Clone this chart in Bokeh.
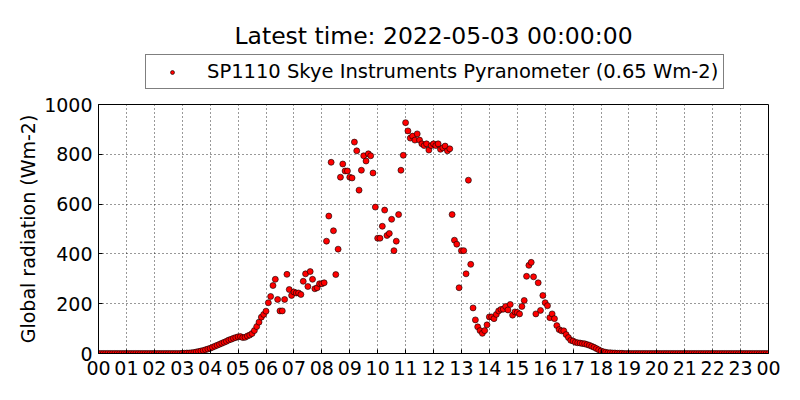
from bokeh.plotting import figure
from bokeh.layouts import column
from bokeh.models import (ColumnDataSource, FixedTicker, Legend, LegendItem, Label)
from bokeh.embed import file_html
from bokeh.resources import INLINE

TITLE = "Latest time: 2022-05-03 00:00:00"
SERIES_NAME = "SP1110 Skye Instruments Pyranometer (0.65 Wm-2)"
Y_LABEL = "Global radiation (Wm-2)"
START_HOUR = 0.0
STEP_MIN = 5  # sampling interval in minutes

# global radiation (Wm-2), one value every 5 minutes from 00:00 to 24:00
night_am = [0] * 36  # 00:00 - 02:55
dawn = [1, 1, 2, 2, 3, 4, 6, 8, 10, 12, 15, 18,          # 03:00 - 03:55
        21, 25, 29, 33, 37, 41, 45, 49, 54, 57, 61, 64,  # 04:00 - 04:55
        67, 68, 64, 65, 70, 74, 80, 92, 108, 126, 146, 157]  # 05:00 - 05:55
day = [170, 204, 229, 273, 298, 217, 171, 171, 217, 318, 257, 233,   # 06
       247, 243, 243, 237, 290, 320, 269, 329, 298, 260, 264, 280,   # 07
       280, 284, 451, 552, 768, 493, 317, 419, 708, 761, 733, 733,   # 08
       708, 705, 849, 814, 656, 736, 794, 773, 802, 794, 725, 588,   # 09
       463, 463, 511, 576, 474, 482, 539, 413, 451, 558, 736, 796,   # 10
       927, 894, 865, 873, 857, 882, 857, 842, 835, 842, 817, 835,   # 11
       842, 835, 842, 820, 826, 833, 814, 822, 558, 455, 439, 264,   # 12
       413, 413, 320, 696, 358, 183, 135, 107, 92, 81, 92, 115,      # 13
       147, 147, 140, 157, 171, 177, 178, 189, 175, 197, 154, 167,   # 14
       165, 159, 189, 213, 310, 354, 366, 308, 159, 284, 173, 233,   # 15
       204, 192, 144, 159, 140, 112, 96, 91, 91, 76, 64, 53,         # 16
       50, 45, 43, 42, 40, 39, 36, 33, 29, 25, 20, 15,               # 17
       10, 7, 5, 3, 3, 2, 2, 1, 1, 1, 0, 0]                          # 18
night_pm = [0] * (289 - 36 - len(dawn) - len(day))
radiation = night_am + dawn + day + night_pm

hour_ticks = list(range(0, 25))
hour_labels = ["%02d" % (h % 24) for h in hour_ticks]
y_ticks = [0, 200, 400, 600, 800, 1000]

hours = [START_HOUR + i * STEP_MIN / 60.0 for i in range(len(radiation))]
src = ColumnDataSource(dict(hour=hours, rad=radiation))

FONT = "DejaVu Sans"
TICK_SIZE = "19px"
W = 784
HEAD_H = 93
MAIN_H = 290
LEFT = 98
RIGHT = 16

MARKER = dict(size=6, fill_color="#ff0000", line_color="black", line_width=0.6)

# ---- header: title + legend (frame is aligned with the main plot's frame) ----
# its ranges lie outside the data, so the series renderer here only feeds the legend
head = figure(width=W, height=HEAD_H, x_range=(-3, -2), y_range=(-3, -2),
              output_backend="svg", toolbar_location=None,
              x_axis_type=None, y_axis_type=None,
              min_border_left=LEFT, min_border_right=RIGHT,
              min_border_top=0, min_border_bottom=0)
head.outline_line_color = None
head.background_fill_color = "white"
head.border_fill_color = "white"
head.xgrid.visible = False
head.ygrid.visible = False

title = Label(x=335, y=HEAD_H - 35, x_units="screen", y_units="screen",
              text=TITLE, text_align="center", text_baseline="alphabetic",
              text_font=FONT, text_font_size="23.5px", text_color="black")
head.add_layout(title)

lr = head.scatter("hour", "rad", source=src, **MARKER)
legend = Legend(items=[LegendItem(label=SERIES_NAME, renderers=[lr])],
                location=(145 - LEFT, HEAD_H - 89), orientation="vertical",
                border_line_color="black", border_line_width=1,
                background_fill_color="white", background_fill_alpha=1,
                label_text_font=FONT, label_text_font_size="19.5px",
                label_text_color="black",
                padding=5, margin=0, spacing=0,
                glyph_width=42, glyph_height=10, label_height=22,
                label_standoff=14)
head.add_layout(legend)

# ---- main plot ----
p = figure(width=W, height=MAIN_H, x_range=(0, 24), y_range=(0, 1000),
           output_backend="svg", toolbar_location=None,
           min_border_left=LEFT, min_border_right=RIGHT,
           min_border_top=11, min_border_bottom=30)
p.background_fill_color = "white"
p.border_fill_color = "white"
p.outline_line_color = "black"
p.outline_line_width = 1

r = p.scatter("hour", "rad", source=src, **MARKER)

xt = FixedTicker(ticks=hour_ticks)
yt = FixedTicker(ticks=y_ticks)
overrides = {h: lab for h, lab in zip(hour_ticks, hour_labels)}

xa = p.xaxis[0]
xa.ticker = xt
xa.major_label_overrides = overrides
ya = p.yaxis[0]
ya.ticker = yt
ya.axis_label = Y_LABEL
for ax in (xa, ya):
    ax.major_label_text_font = FONT
    ax.major_label_text_font_size = TICK_SIZE
    ax.major_label_text_color = "black"
    ax.major_tick_in = 4
    ax.major_tick_out = 0
    ax.minor_tick_line_color = None
    ax.axis_line_color = "black"
    ax.major_tick_line_color = "black"
xa.major_label_standoff = 7
ya.major_label_standoff = 6
ya.axis_label_text_font = FONT
ya.axis_label_text_font_size = TICK_SIZE
ya.axis_label_text_font_style = "normal"
ya.axis_label_text_color = "black"
ya.axis_label_standoff = 2

p.xgrid.ticker = xt
p.ygrid.ticker = yt
for g in (p.xgrid[0], p.ygrid[0]):
    g.grid_line_color = "black"
    g.grid_line_dash = "1 3"
    g.grid_line_width = 1
    g.grid_line_alpha = 0.8

layout = column(head, p, spacing=0)
open("out.html", "w").write(file_html(layout, INLINE))
